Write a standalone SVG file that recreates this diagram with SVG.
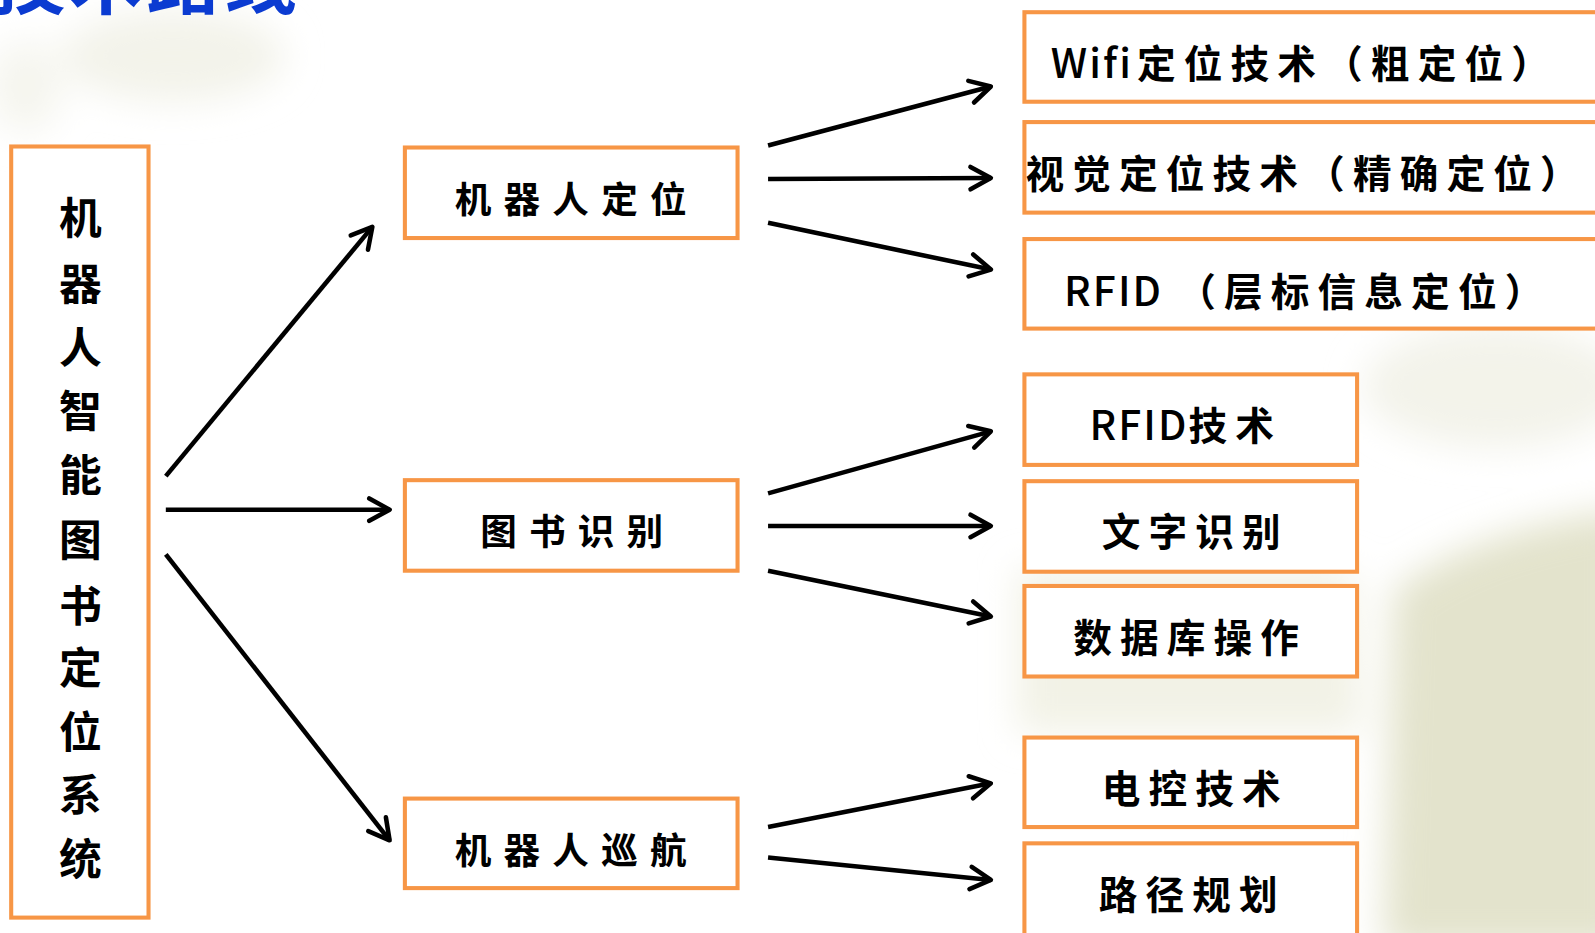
<svg xmlns="http://www.w3.org/2000/svg" width="1595" height="933" viewBox="0 0 1595 933">
<defs>
<style>
.box{fill:#FFFFFF;stroke:#F79646;stroke-width:4}
.t{font-family:"Noto Sans CJK SC","Liberation Sans",sans-serif;font-weight:700;fill:#000}
.mid{font-size:36px;letter-spacing:12px}
.rt{font-size:38px;letter-spacing:8px}
.lat{letter-spacing:2px;font-weight:500}
.vt{font-size:42px;text-anchor:middle}
.conn line{stroke:#000;stroke-width:4.5;marker-end:url(#arr)}
</style>
<marker id="arr" viewBox="0 0 30 30" refX="26" refY="15" markerWidth="30" markerHeight="30" markerUnits="userSpaceOnUse" orient="auto">
<path d="M6,4 L26,15 L6,26" fill="none" stroke="#000" stroke-width="4.5" stroke-linecap="round" stroke-linejoin="round"/>
</marker>
<filter id="blur" x="-50%" y="-50%" width="200%" height="200%"><feGaussianBlur stdDeviation="18"/></filter>
</defs>
<rect width="1595" height="933" fill="#FFFFFF"/>
<g transform="scale(1.0173)">
<g id="background" filter="url(#blur)">
<ellipse cx="170" cy="55" rx="110" ry="45" fill="#F3F3EA"/>
<ellipse cx="25" cy="85" rx="35" ry="45" fill="#F5F5EE"/>
<path d="M1000,560 L1330,560 L1340,720 L1000,720 Z" fill="#F2F2E6"/>
<path d="M1370,580 Q1450,520 1600,500 L1600,933 L1360,933 Z" fill="#E3E3CC"/>
<ellipse cx="1470" cy="380" rx="130" ry="60" fill="#F3F3EA"/>
</g>
<text x="-8" y="8" font-family="Noto Sans CJK SC, sans-serif" font-weight="700" font-size="72" fill="#0B3BD1" letter-spacing="4">技术路线</text>

<g id="connectors" class="conn">
<line x1="163" y1="468" x2="366" y2="223"/>
<line x1="163" y1="501" x2="383" y2="501"/>
<line x1="163" y1="545" x2="383" y2="826"/>
<line x1="755" y1="143" x2="974" y2="85"/>
<line x1="755" y1="176" x2="974" y2="175"/>
<line x1="755" y1="219" x2="974" y2="265"/>
<line x1="755" y1="485" x2="974" y2="424"/>
<line x1="755" y1="517" x2="974" y2="517"/>
<line x1="755" y1="561" x2="974" y2="606"/>
<line x1="755" y1="813" x2="974" y2="770"/>
<line x1="755" y1="843" x2="974" y2="865"/>
</g>

<g id="n-root">
<rect class="box" x="11" y="144" width="135" height="758"/>
<text class="t vt"><tspan x="79" y="230">机</tspan><tspan x="79" y="295">器</tspan><tspan x="79" y="358">人</tspan><tspan x="79" y="420">智</tspan><tspan x="79" y="483">能</tspan><tspan x="79" y="547">图</tspan><tspan x="79" y="611">书</tspan><tspan x="79" y="672">定</tspan><tspan x="79" y="735">位</tspan><tspan x="79" y="797">系</tspan><tspan x="79" y="860">统</tspan></text>
</g>

<g id="n-loc">
<rect class="box" x="398" y="145" width="327" height="89"/>
<text class="t mid" x="447" y="209">机器人定位</text>
</g>
<g id="n-book">
<rect class="box" x="398" y="472" width="327" height="89"/>
<text class="t mid" x="472" y="536">图书识别</text>
</g>
<g id="n-nav">
<rect class="box" x="398" y="785" width="327" height="88"/>
<text class="t mid" x="447" y="849">机器人巡航</text>
</g>

<g id="n-wifi">
<rect class="box" x="1007" y="12" width="600" height="88"/>
<text class="t rt" x="1033" y="77"><tspan class="lat" font-size="40">Wifi</tspan><tspan dx="4">定位技术（粗定位）</tspan></text>
</g>
<g id="n-vision">
<rect class="box" x="1007" y="120" width="600" height="89"/>
<text class="t rt" x="1008" y="185">视觉定位技术（精确定位）</text>
</g>
<g id="n-rfid1">
<rect class="box" x="1007" y="235" width="600" height="88"/>
<text class="t rt" x="1046" y="301"><tspan class="lat" font-size="40">RFID</tspan><tspan dx="14">（层标信息定位）</tspan></text>
</g>

<g id="n-rfid2">
<rect class="box" x="1007" y="368" width="327" height="89"/>
<text class="t rt" x="1071" y="433"><tspan class="lat" font-size="40">RFID</tspan><tspan>技术</tspan></text>
</g>
<g id="n-text">
<rect class="box" x="1007" y="473" width="327" height="89"/>
<text class="t rt" x="1083" y="537">文字识别</text>
</g>
<g id="n-db">
<rect class="box" x="1007" y="576" width="327" height="89"/>
<text class="t rt" x="1055" y="641">数据库操作</text>
</g>
<g id="n-elec">
<rect class="box" x="1007" y="725" width="327" height="88"/>
<text class="t rt" x="1083" y="789">电控技术</text>
</g>
<g id="n-path">
<rect class="box" x="1007" y="829" width="327" height="120"/>
<text class="t rt" x="1080" y="894">路径规划</text>
</g>
</g>
</svg>
